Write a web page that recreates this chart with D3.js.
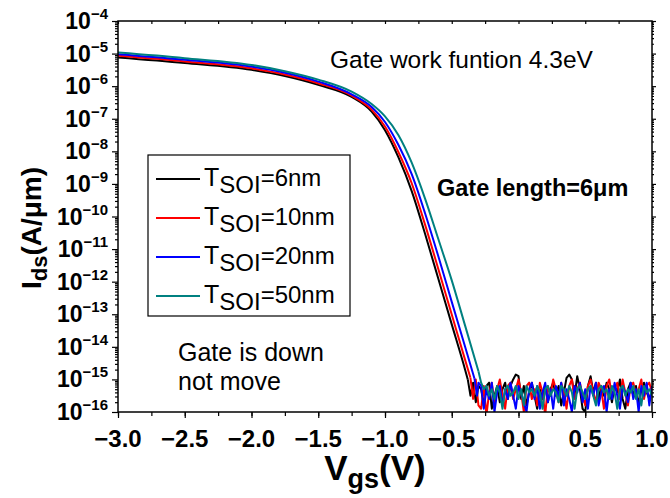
<!DOCTYPE html>
<html>
<head>
<meta charset="utf-8">
<script src="https://cdn.jsdelivr.net/npm/d3@7"></script>
<style>
  body { margin: 0; background: #fff; }
  svg { font-family: "Liberation Sans", Arial, sans-serif; }
</style>
</head>
<body>
<svg id="canvas" width="670" height="498"></svg>
<script>
// gate voltage (V) for the smooth part of the sweep
const vSmooth = [-3.0, -2.5, -2.0, -1.75, -1.5, -1.25, -1.1, -1.0, -0.9, -0.8, -0.7, -0.6, -0.5, -0.4];

// log10(Ids) in A/um
const logT6 = [-5.12, -5.29, -5.50, -5.69, -5.96, -6.33, -6.78, -7.35, -8.18, -9.22, -10.53, -11.92, -13.31, -14.70];
const logT10 = [-5.07, -5.24, -5.45, -5.64, -5.91, -6.29, -6.72, -7.24, -8.02, -8.98, -10.25, -11.62, -13.01, -14.40];
const logT20 = [-5.02, -5.19, -5.40, -5.59, -5.86, -6.25, -6.64, -7.10, -7.80, -8.70, -9.90, -11.23, -12.62, -14.00];
const logT50 = [-4.97, -5.14, -5.35, -5.54, -5.80, -6.17, -6.55, -6.93, -7.50, -8.35, -9.45, -10.70, -11.96, -13.35];

// where each curve hits the noise floor, [V, log10(Ids)]
const floorT6 = [[-0.38, -15.0], [-0.36, -15.5], [-0.34, -15.1], [-0.32, -15.7], [-0.30, -15.2]];
const floorT10 = [[-0.36, -14.95], [-0.34, -15.6], [-0.32, -15.0], [-0.30, -15.8]];
const floorT20 = [[-0.33, -14.97], [-0.31, -15.5], [-0.30, -15.1]];
const floorT50 = [[-0.30, -14.75]];

// noise floor, Vgs = -0.28 .. 1.00 in 0.02 V steps
const vNoise = d3.range(0, 65).map((i) => -0.28 + i * 0.02);
const noiseT6 = [
  -15.3, -15.8, -15.2, -15.1, -15.9, -15.5, -15.2, -15.7, -15.3, -15.1,
  -15.6, -15.2, -15.0, -14.85, -14.9, -15.6, -15.2, -15.8, -15.4, -15.1,
  -15.5, -15.9, -15.3, -15.6, -15.2, -15.7, -15.3, -15.1, -15.5, -15.2,
  -15.8, -15.4, -14.95, -14.85, -15.0, -15.5, -14.9, -15.3, -15.9, -16.0,
  -15.2, -14.9, -15.4, -15.1, -15.6, -15.2, -15.5, -15.1, -15.3, -15.7,
  -15.2, -15.4, -15.0, -15.6, -15.9, -15.3, -15.1, -15.5, -15.2, -15.8,
  -15.3, -15.1, -15.4, -15.6, -15.3
];
const noiseT10 = [
  -15.9, -15.2, -16.1, -15.4, -15.1, -15.7, -15.3, -15.0, -15.5, -15.9,
  -15.2, -15.1, -15.6, -15.3, -15.0, -15.4, -16.0, -15.2, -15.1, -15.6,
  -15.3, -15.8, -15.1, -15.4, -16.1, -15.2, -15.5, -15.0, -15.3, -15.7,
  -15.1, -15.4, -15.9, -15.2, -15.0, -15.6, -15.3, -15.1, -15.5, -15.8,
  -15.2, -15.0, -15.4, -15.7, -15.1, -15.3, -15.9, -15.2, -15.0, -15.5,
  -15.3, -15.1, -15.6, -15.0, -15.4, -15.8, -15.2, -15.1, -15.5, -15.3,
  -15.0, -15.6, -15.2, -15.1, -15.4
];
const noiseT20 = [
  -15.2, -15.9, -15.3, -15.6, -15.1, -16.0, -15.4, -15.2, -15.8, -15.3,
  -15.6, -15.1, -15.5, -15.9, -15.2, -15.4, -15.7, -16.0, -15.3, -15.1,
  -15.6, -15.2, -15.9, -15.4, -15.1, -15.7, -15.3, -15.9, -15.2, -15.5,
  -15.1, -15.8, -15.3, -15.6, -16.0, -15.2, -15.4, -15.1, -15.7, -15.3,
  -15.9, -15.2, -15.5, -15.1, -15.8, -15.4, -15.2, -16.0, -15.3, -15.6,
  -15.1, -15.5, -15.9, -15.2, -15.4, -15.7, -15.1, -15.6, -15.3, -16.0,
  -15.2, -15.5, -15.1, -15.8, -15.2
];
const noiseT50 = [
  -15.1, -15.3, -15.2, -15.5, -15.3, -15.6, -15.2, -15.4, -15.9, -15.3,
  -15.2, -15.5, -15.4, -15.2, -15.6, -15.3, -15.8, -15.2, -15.4, -15.3,
  -15.5, -15.2, -15.4, -15.9, -15.3, -15.2, -15.5, -15.3, -15.4, -15.7,
  -15.2, -15.3, -15.5, -15.2, -15.4, -15.9, -15.3, -15.2, -15.4, -15.6,
  -15.3, -15.2, -15.5, -15.8, -15.3, -15.2, -15.4, -15.3, -15.6, -15.2,
  -15.4, -15.9, -15.3, -15.2, -15.5, -15.3, -15.4, -15.2, -15.6, -15.3,
  -15.8, -15.2, -15.4, -15.3, -15.5
];

const legendNames = ["6nm", "10nm", "20nm", "50nm"];
const colors = ["#000000", "#ff0000", "#0000ff", "#008080"];

const xTicks = [-3.0, -2.5, -2.0, -1.5, -1.0, -0.5, 0.0, 0.5, 1.0];
const yExponents = [-16, -15, -14, -13, -12, -11, -10, -9, -8, -7, -6, -5, -4];

const svg = d3.select("#canvas");
const mLeft = 118, mRight = 652, mTop = 21, mBottom = 412;

const x = d3.scaleLinear().domain([-3, 1]).range([mLeft, mRight]);
const y = d3.scaleLog().domain([1e-16, 1e-4]).range([mBottom, mTop]);

const smoothPart = (logs, floorPts) => {
  const pts = vSmooth.map((v, i) => [v, logs[i]]);
  pts.push(floorPts[0]);
  return pts;
};
const noisePart = (floorPts, noise) => floorPts.concat(vNoise.map((v, i) => [v, noise[i]]));

const smoothSeries = [
  smoothPart(logT6, floorT6),
  smoothPart(logT10, floorT10),
  smoothPart(logT20, floorT20),
  smoothPart(logT50, floorT50)
];
const noiseSeries = [
  noisePart(floorT6, noiseT6),
  noisePart(floorT10, noiseT10),
  noisePart(floorT20, noiseT20),
  noisePart(floorT50, noiseT50)
];

svg.append("clipPath").attr("id", "clip")
  .append("rect")
  .attr("x", mLeft).attr("y", mTop)
  .attr("width", mRight - mLeft).attr("height", mBottom - mTop);

const smoothLine = d3.line()
  .x((d) => x(d[0]))
  .y((d) => y(Math.pow(10, d[1])))
  .curve(d3.curveMonotoneX);
const noiseLine = d3.line()
  .x((d) => x(d[0]))
  .y((d) => y(Math.pow(10, d[1])));

const plot = svg.append("g").attr("clip-path", "url(#clip)");

const curve = plot.selectAll("g.curve")
  .data(d3.range(4))
  .enter()
  .append("g")
  .attr("class", "curve")
  .attr("fill", "none")
  .attr("stroke", (i) => colors[i])
  .attr("stroke-width", 2)
  .attr("stroke-linejoin", "round");
curve.append("path").attr("d", (i) => smoothLine(smoothSeries[i]));
curve.append("path").attr("d", (i) => noiseLine(noiseSeries[i]));

// minor tick values
const minorY = [];
yExponents.slice(0, -1).forEach((e) => {
  for (let k = 2; k <= 9; k++) minorY.push(k * Math.pow(10, e));
});
const minorX = d3.range(0, 17).map((i) => -3 + i * 0.25);

const styleAxis = (g) => {
  g.select(".domain").remove();
  g.selectAll("line").attr("stroke", "#000").attr("stroke-width", 1.2);
};

// left axis
svg.append("g").attr("transform", `translate(${mLeft},0)`)
  .call(d3.axisLeft(y).tickValues(yExponents.map((e) => Math.pow(10, e))).tickSize(6).tickFormat(""))
  .call(styleAxis);
svg.append("g").attr("transform", `translate(${mLeft},0)`)
  .call(d3.axisLeft(y).tickValues(minorY).tickSize(3).tickFormat(""))
  .call(styleAxis);
// right axis
svg.append("g").attr("transform", `translate(${mRight},0)`)
  .call(d3.axisRight(y).tickValues(yExponents.map((e) => Math.pow(10, e))).tickSize(4).tickFormat(""))
  .call(styleAxis);
svg.append("g").attr("transform", `translate(${mRight},0)`)
  .call(d3.axisRight(y).tickValues(minorY).tickSize(2).tickFormat(""))
  .call(styleAxis);
// bottom axis
svg.append("g").attr("transform", `translate(0,${mBottom})`)
  .call(d3.axisBottom(x).tickValues(minorX).tickSize(4).tickFormat(""))
  .call(styleAxis);
svg.append("g").attr("transform", `translate(0,${mBottom})`)
  .call(d3.axisBottom(x).tickValues(xTicks).tickSize(6).tickFormat(""))
  .call(styleAxis);
// top axis (inner ticks)
svg.append("g").attr("transform", `translate(0,${mTop})`)
  .call(d3.axisBottom(x).tickValues(minorX).tickSize(3).tickFormat(""))
  .call(styleAxis);

// frame
svg.append("rect")
  .attr("x", mLeft).attr("y", mTop)
  .attr("width", mRight - mLeft).attr("height", mBottom - mTop)
  .attr("fill", "none").attr("stroke", "#000").attr("stroke-width", 1.5);

// x tick labels
svg.append("g")
  .selectAll("text")
  .data(xTicks)
  .enter()
  .append("text")
  .attr("x", (d) => x(d))
  .attr("y", mBottom + 35)
  .attr("text-anchor", "middle")
  .attr("font-size", 24)
  .attr("font-weight", "bold")
  .text((d) => d3.format(".1f")(d));

// y tick labels 10^n
const yLab = svg.append("g")
  .selectAll("text")
  .data(yExponents)
  .enter()
  .append("text")
  .attr("x", 108)
  .attr("y", (d) => y(Math.pow(10, d)) + 8)
  .attr("text-anchor", "end")
  .attr("font-weight", "bold");
yLab.append("tspan").attr("font-size", 23).text("10");
yLab.append("tspan").attr("font-size", 15).attr("dy", -10)
  .text((d) => "\u2212" + Math.abs(d));

// axis titles
const xTitle = svg.append("text")
  .attr("x", 375).attr("y", 480)
  .attr("text-anchor", "middle")
  .attr("font-weight", "bold");
xTitle.append("tspan").attr("font-size", 35).text("V");
xTitle.append("tspan").attr("font-size", 27).attr("dy", 8).text("gs");
xTitle.append("tspan").attr("font-size", 35).attr("dy", -8).text("(V)");

const yTitle = svg.append("text")
  .attr("transform", "translate(41,228) rotate(-90)")
  .attr("text-anchor", "middle")
  .attr("font-weight", "bold");
yTitle.append("tspan").attr("font-size", 28).text("I");
yTitle.append("tspan").attr("font-size", 22).attr("dy", 6).text("ds");
yTitle.append("tspan").attr("font-size", 28).attr("dy", -6).text("(A/\u03bcm)");

// legend
const legend = svg.append("g");
legend.append("rect")
  .attr("x", 148).attr("y", 155)
  .attr("width", 202).attr("height", 161)
  .attr("fill", "#fff").attr("stroke", "#000").attr("stroke-width", 1.2);

const rows = legend.selectAll("g.row")
  .data(legendNames)
  .enter()
  .append("g")
  .attr("class", "row")
  .attr("transform", (d, i) => `translate(0,${179 + i * 39})`);
rows.append("line")
  .attr("x1", 156).attr("x2", 200)
  .attr("stroke", (d, i) => colors[i])
  .attr("stroke-width", 2);
const rowText = rows.append("text").attr("x", 204).attr("y", 7);
rowText.append("tspan").attr("font-size", 25).text("T");
rowText.append("tspan").attr("font-size", 24).attr("dy", 7).text("SOI");
rowText.append("tspan").attr("font-size", 24).attr("dy", -7).text((d) => "=" + d);

// annotations
svg.append("text")
  .attr("x", 330).attr("y", 68)
  .attr("font-size", 24.5)
  .text("Gate work funtion 4.3eV");
svg.append("text")
  .attr("x", 437).attr("y", 196)
  .attr("font-size", 23.5)
  .attr("font-weight", "bold")
  .text("Gate length=6\u03bcm");
svg.append("text")
  .attr("x", 178).attr("y", 361)
  .attr("font-size", 25)
  .text("Gate is down");
svg.append("text")
  .attr("x", 178).attr("y", 390)
  .attr("font-size", 25)
  .text("not move");
</script>
</body>
</html>
